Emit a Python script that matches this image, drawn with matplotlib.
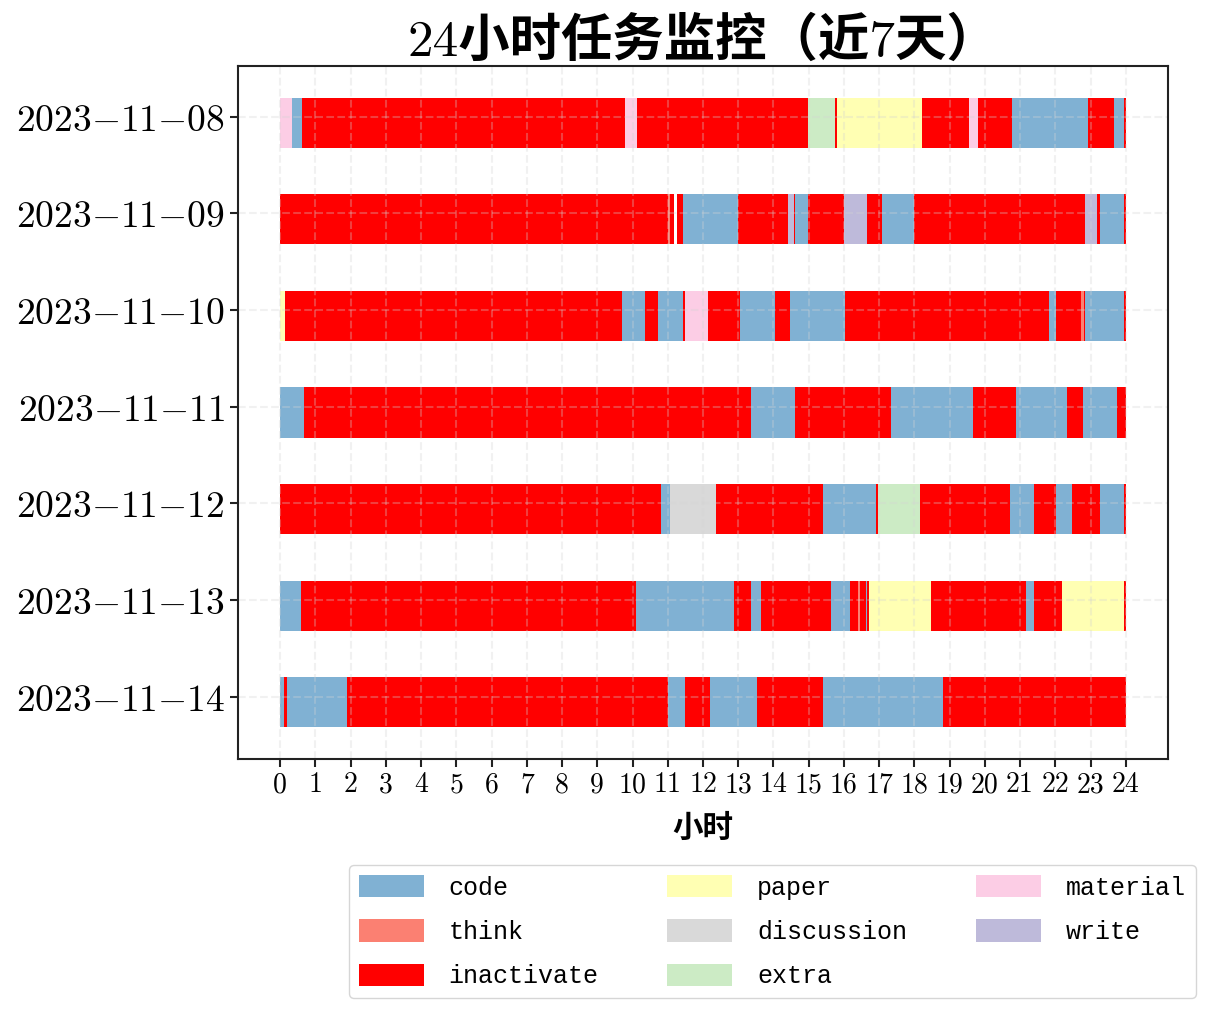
import numpy as np
import matplotlib
matplotlib.use('Agg')
import matplotlib.pyplot as plt
from matplotlib.patches import Patch

plt.rcParams['mathtext.fontset'] = 'cm'

# days shown top to bottom
days = ['2023-11-08', '2023-11-09', '2023-11-10', '2023-11-11',
        '2023-11-12', '2023-11-13', '2023-11-14']

tasks = ['code', 'think', 'inactivate', 'paper', 'discussion', 'extra', 'material', 'write']
task_colors = ['#80b1d3', '#fb8072', '#ff0000', '#ffffb3', '#d9d9d9', '#ccebc5', '#fccde5', '#bebada']

# segment boundaries (hours) and the task of each segment, per day
edges_1108 = [0, 0.34, 0.62, 9.80, 10.12, 14.99, 15.75, 15.81, 18.22, 19.55, 19.81, 20.77, 22.92, 23.66, 23.94, 24]
tasks_1108 = ['material', 'code', 'inactivate', 'material', 'inactivate', 'extra', 'inactivate', 'paper',
              'inactivate', 'material', 'inactivate', 'code', 'inactivate', 'code', 'inactivate']

edges_1109 = [0, 11.02, 11.07, 11.19, 11.25, 11.42, 12.98, 14.40, 14.57, 14.62, 14.99, 16.01, 16.66, 17.09,
              17.99, 22.84, 23.18, 23.26, 23.94, 24]
tasks_1109 = ['inactivate', 'think', 'inactivate', None, 'inactivate', 'code', 'inactivate', 'write',
              'inactivate', 'code', 'inactivate', 'write', 'inactivate', 'code', 'inactivate', 'write',
              'inactivate', 'code', 'inactivate']

edges_1110 = [0, 0.14, 9.69, 10.34, 10.71, 11.42, 11.48, 12.13, 13.06, 14.05, 14.48, 16.04, 21.82, 22.02,
              22.73, 22.81, 22.84, 23.94, 24]
tasks_1110 = ['paper', 'inactivate', 'code', 'inactivate', 'code', 'inactivate', 'material', 'inactivate',
              'code', 'inactivate', 'code', 'inactivate', 'code', 'inactivate', 'think', 'inactivate',
              'code', 'inactivate']

edges_1111 = [0, 0.68, 13.37, 14.62, 17.34, 19.67, 20.88, 22.33, 22.78, 23.75, 24]
tasks_1111 = ['code', 'inactivate', 'code', 'inactivate', 'code', 'inactivate', 'code', 'inactivate',
              'code', 'inactivate']

edges_1112 = [0, 10.82, 11.05, 12.38, 15.41, 16.92, 16.97, 18.16, 20.71, 21.39, 22.02, 22.47, 23.26, 23.94, 24]
tasks_1112 = ['inactivate', 'code', 'discussion', 'inactivate', 'code', 'inactivate', 'extra', 'inactivate',
              'code', 'inactivate', 'code', 'inactivate', 'code', 'inactivate']

edges_1113 = [0, 0.60, 10.09, 12.89, 13.35, 13.66, 15.64, 16.18, 16.41, 16.47, 16.63, 16.66, 16.72, 18.48,
              21.17, 21.39, 22.19, 23.94, 24]
tasks_1113 = ['code', 'inactivate', 'code', 'inactivate', 'code', 'inactivate', 'code', 'inactivate',
              'think', 'inactivate', 'code', 'inactivate', 'paper', 'inactivate', 'code', 'inactivate',
              'paper', 'inactivate']

edges_1114 = [0, 0.11, 0.20, 1.90, 11.00, 11.50, 12.21, 13.52, 15.41, 18.82, 24]
tasks_1114 = ['code', 'inactivate', 'code', 'inactivate', 'code', 'inactivate', 'code', 'inactivate',
              'code', 'inactivate']

day_edges = [edges_1108, edges_1109, edges_1110, edges_1111, edges_1112, edges_1113, edges_1114]
day_tasks = [tasks_1108, tasks_1109, tasks_1110, tasks_1111, tasks_1112, tasks_1113, tasks_1114]

hours = list(range(25))

color_of = dict(zip(tasks, task_colors))

fig, ax = plt.subplots(figsize=(12.11, 10.16), dpi=100)
fig.subplots_adjust(left=0.1965, right=0.9645, bottom=0.253, top=0.935)

for i, (edges, names) in enumerate(zip(day_edges, day_tasks)):
    starts = np.array(edges[:-1])
    widths = np.diff(edges)
    for t in tasks:
        xr = [(s, w) for s, w, n in zip(starts, widths, names) if n == t]
        if xr:
            ax.broken_barh(xr, (i - 0.2, 0.52), facecolors=color_of[t])

ax.set_xlim(-1.2, 25.2)
ax.set_ylim(len(days) - 1 + 0.646, -0.526)

ax.set_xticks(hours)
ax.set_xticklabels([str(h) for h in hours], fontsize=20, family='cmr10')
ax.set_yticks(range(len(days)))
ax.set_yticklabels(['$' + d.replace('-', '{-}') + '$' for d in days], fontsize=27)

ax.grid(True, linestyle='--', color='lightgray', alpha=0.3, linewidth=1.5)

for s in ax.spines.values():
    s.set_linewidth(1.5)
    s.set_color('#222222')
ax.tick_params(width=1.5, length=6, color='#222222')

ax.set_title('24小时任务监控（近7天）', fontsize=37, fontweight='bold',
             family=['cmr10', 'Noto Sans CJK SC'], pad=4)
ax.set_xlabel('小时', fontsize=22, fontweight='bold', family='Noto Sans CJK SC', labelpad=10)

handles = [Patch(facecolor=c, label=t) for t, c in zip(tasks, task_colors)]
fig.legend(handles=handles, loc='upper right', bbox_to_anchor=(1196 / 1211, 1 - 865 / 1016),
           ncol=3, prop={'family': 'Liberation Mono', 'size': 18},
           handlelength=2.6, handleheight=1.0, handletextpad=1.0,
           columnspacing=2.75, labelspacing=0.78, borderaxespad=0)

plt.savefig('out.png', dpi=100)
